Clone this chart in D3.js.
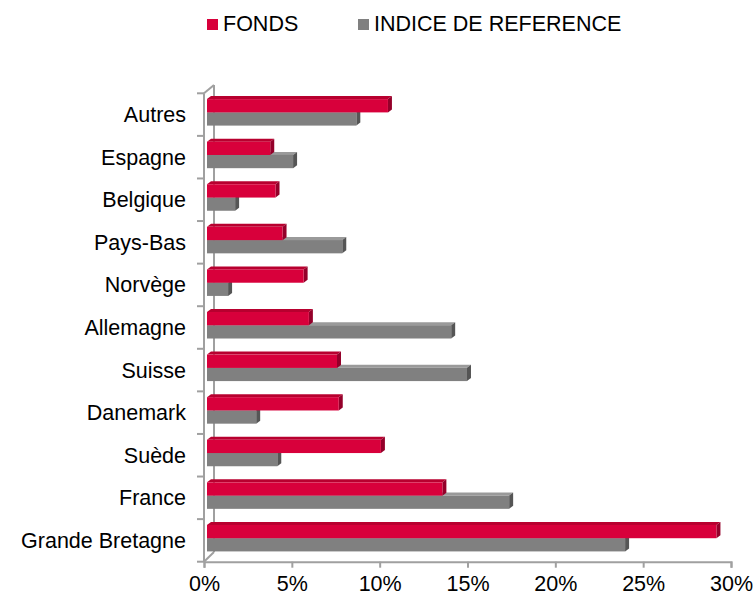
<!DOCTYPE html>
<html><head><meta charset="utf-8">
<script src="https://cdn.jsdelivr.net/npm/d3@7"></script>
<style>body{margin:0;background:#fff}svg{display:block}text{font-family:"Liberation Sans",Arial,sans-serif}</style>
</head><body><svg id="c" width="754" height="596"></svg>
<script>
const categories = ["Autres","Espagne","Belgique","Pays-Bas","Norvège","Allemagne","Suisse","Danemark","Suède","France","Grande Bretagne"];
const fonds  = [10.3, 3.6, 3.9, 4.3, 5.5, 5.8, 7.4, 7.5, 9.9, 13.4, 29.0];
const indice = [8.5, 4.9, 1.6, 7.7, 1.2, 13.9, 14.8, 2.8, 4.0, 17.2, 23.8];
const xTicks = [0,5,10,15,20,25,30];
const seriesNames = ["FONDS","INDICE DE REFERENCE"];

const svg = d3.select("#c");
const x = d3.scaleLinear().domain([0,30]).range([204,731]);
const y = d3.scaleBand().domain(categories).range([93.3,561.7]).padding(0);
const axisCol = "#a0a0a0";
const red = {front:"#d8003b", top:"#b8002f", side:"#94002a"};
const grey = {front:"#808080", top:"#9a9a9a", side:"#555555"};
const dx = 4, dy = -3, h = 13.3, off = 3;
const fs = 21.5;

// walls / axes
const g = svg.append("g");
g.append("line").attr("x1",214).attr("x2",214).attr("y1",85).attr("y2",552).attr("stroke",axisCol).attr("stroke-width",2);
g.append("line").attr("x1",204).attr("x2",214).attr("y1",y.range()[0]).attr("y2",85).attr("stroke",axisCol).attr("stroke-width",2);
g.append("line").attr("x1",204).attr("x2",214).attr("y1",y.range()[1]).attr("y2",552).attr("stroke",axisCol).attr("stroke-width",2);
g.append("line").attr("x1",204).attr("x2",204).attr("y1",y.range()[0]).attr("y2",y.range()[1]).attr("stroke",axisCol).attr("stroke-width",2);

// left ticks at band boundaries
const bounds = categories.map(c=>y(c)).concat([y.range()[1]]);
g.selectAll(".lt").data(bounds).join("line").attr("x1",197).attr("x2",204).attr("y1",d=>d).attr("y2",d=>d).attr("stroke",axisCol).attr("stroke-width",2);

// bottom axis
const xa = d3.axisBottom(x).tickValues(xTicks).tickFormat(d=>d+"%").tickSize(6).tickPadding(8);
const xg = svg.append("g").attr("transform",`translate(0,${y.range()[1]})`).call(xa);
xg.select(".domain").attr("stroke",axisCol).attr("stroke-width",2);
xg.selectAll(".tick line").attr("stroke",axisCol).attr("stroke-width",2);
xg.selectAll("text").attr("font-size",fs).attr("fill","#000").style("font-family","Liberation Sans, Arial, sans-serif");

// category labels
svg.selectAll(".cl").data(categories).join("text")
  .attr("x",186).attr("y",d=>y(d)+y.bandwidth()/2+7.5)
  .attr("text-anchor","end").attr("font-size",fs).attr("fill","#000").text(d=>d);

function box(sel, x0, x1, yy, col){
  const gg = sel.append("g");
  gg.append("polygon").attr("points",[[x0,yy],[x0+dx,yy+dy],[x1+dx,yy+dy],[x1,yy]].join(" ")).attr("fill",col.top);
  gg.append("polygon").attr("points",[[x1,yy],[x1+dx,yy+dy],[x1+dx,yy+h+dy],[x1,yy+h]].join(" ")).attr("fill",col.side);
  gg.append("rect").attr("x",x0).attr("y",yy).attr("width",x1-x0).attr("height",h).attr("fill",col.front);
}
const bars = svg.append("g");
categories.forEach((c,i)=>{
  const b = y(c);
  box(bars, x(0)+off, x(indice[i])+off, b+19, grey);
  box(bars, x(0)+off, x(fonds[i])+off, b+5.8, red);
});

// legend
const leg = svg.append("g");
const legX = [207, 358];
const legCols = [red.front, grey.front];
seriesNames.forEach((n,i)=>{
  leg.append("rect").attr("x",legX[i]).attr("y",19).attr("width",11).attr("height",11).attr("fill",legCols[i]);
  leg.append("text").attr("x",legX[i]+16).attr("y",30.5).attr("font-size",fs).attr("fill","#000").text(n);
});
</script></body></html>
